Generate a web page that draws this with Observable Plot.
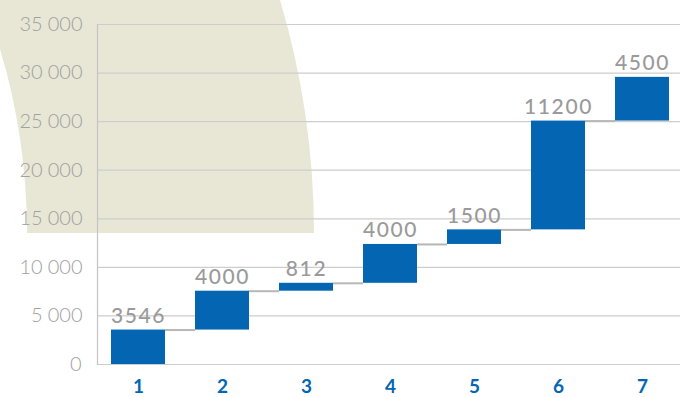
<!DOCTYPE html>
<html>
<head>
<meta charset="utf-8">
<script src="https://cdn.jsdelivr.net/npm/d3@7"></script>
<script src="https://cdn.jsdelivr.net/npm/@observablehq/plot@0.6"></script>
<style>
  html, body { margin: 0; padding: 0; background: #ffffff; }
  #wrap { position: relative; width: 680px; height: 397px; overflow: hidden; }
  #deco { position: absolute; left: 0; top: 0; }
  #chart { position: absolute; left: 0; top: 0; }
  #chart g[aria-label="text"] text { letter-spacing: 1.6px; }
  #chart g[aria-label="y-axis tick label"] text { letter-spacing: 0.9px; }
</style>
</head>
<body>
<div id="wrap">
  <svg id="deco" width="680" height="397">
    <path d="M 0 0 L 280 0 A 815 815 0 0 1 314 233 L 27 233 A 640 640 0 0 0 0 49 Z" fill="#e8e7d6"></path>
  </svg>
  <div id="chart"></div>
</div>
<script>
// ---- data ----
const steps = ["1", "2", "3", "4", "5", "6", "7"];
const deltas = [3546, 4000, 812, 4000, 1500, 11200, 4500];
const valueLabels = ["3546", "4000", "812", "4000", "1500", "11200", "4500"];
const yTicks = [0, 5000, 10000, 15000, 20000, 25000, 30000, 35000];
const yTickLabels = ["0", "5\u202F000", "10\u202F000", "15\u202F000", "20\u202F000", "25\u202F000", "30\u202F000", "35\u202F000"];

// ---- derived table ----
const ends = d3.cumsum(deltas);
const rows = steps.map((s, i) => ({
  step: s,
  start: i === 0 ? 0 : ends[i - 1],
  end: ends[i],
  label: valueLabels[i]
}));
const connectors = rows.slice(0, -1).map((r, i) => ({
  from: r.step,
  to: rows[i + 1].step,
  level: r.end
}));

const bw = 54;

const plot = Plot.plot({
  width: 680,
  height: 397,
  marginLeft: 97,
  marginRight: 0,
  marginTop: 24,
  marginBottom: 33,
  style: { background: "transparent", fontFamily: "Lato, 'Open Sans', sans-serif" },
  x: {
    domain: steps,
    range: [96, 684],
    paddingInner: 30 / 84,
    paddingOuter: 15 / 84
  },
  y: { domain: [0, 35000] },
  marks: [
    Plot.ruleY(yTicks, { stroke: "#cdcdcd", strokeWidth: 1.2 }),
    Plot.frame({ anchor: "left", stroke: "#c4c4c4", strokeWidth: 1.2 }),
    Plot.ruleY(connectors, {
      y: "level",
      x1: "from",
      x2: "to",
      insetLeft: bw,
      insetRight: bw,
      stroke: "#b7b7b7",
      strokeWidth: 2
    }),
    Plot.barY(rows, { x: "step", y1: "start", y2: "end", fill: "#0466b3" }),
    Plot.text(rows, {
      x: "step",
      y: "end",
      text: "label",
      lineAnchor: "bottom",
      dy: -7,
      fontSize: 21,
      fontWeight: 500,
      fill: "#9a9a9a"
    }),
    Plot.axisY({
      ticks: yTicks,
      tickFormat: (d) => yTickLabels[yTicks.indexOf(d)],
      tickSize: 0,
      tickPadding: 15,
      fontSize: 20,
      fontWeight: 300,
      fill: "#a0a0a0",
      label: null
    }),
    Plot.axisX({
      tickSize: 0,
      tickPadding: 15,
      fontSize: 19,
      fontWeight: 700,
      fill: "#0466b3",
      label: null
    })
  ]
});
document.getElementById("chart").appendChild(plot);
</script>
</body>
</html>
